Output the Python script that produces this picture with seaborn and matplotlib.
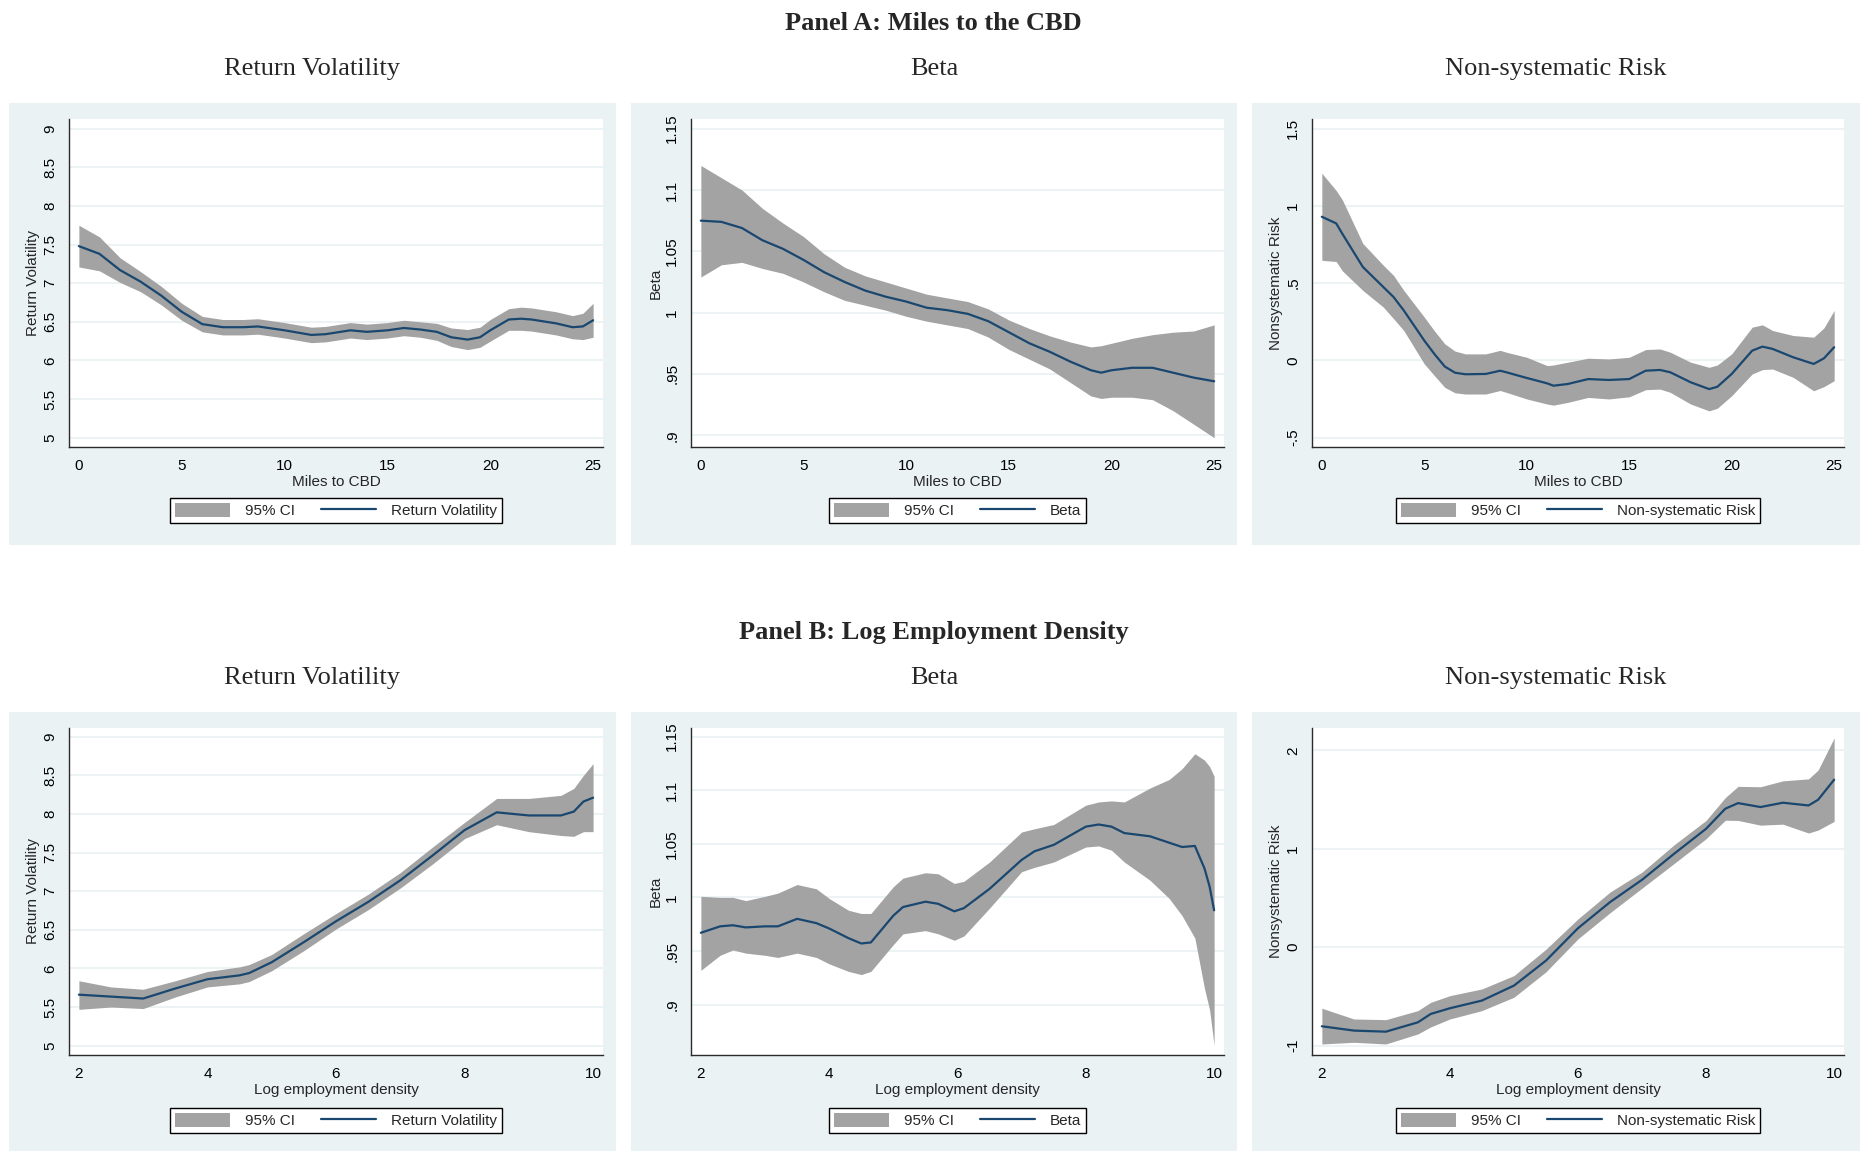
import matplotlib
matplotlib.use("Agg")
import matplotlib.pyplot as plt
from matplotlib.patches import Rectangle
import numpy as np
import pandas as pd
import seaborn as sns

# ---------------- Panel A: miles to the CBD ----------------
miles_vol = [0, 1, 2, 3, 4, 5, 6, 7, 8, 8.7, 10, 11.3, 12, 13.2, 14, 15, 15.8, 16.6,
             17.4, 18.1, 18.9, 19.5, 20, 20.9, 21.5, 22, 23.2, 24, 24.5, 25]
vol_miles = [7.48, 7.38, 7.17, 7.02, 6.84, 6.63, 6.47, 6.43, 6.43, 6.44, 6.39, 6.33, 6.34,
             6.39, 6.37, 6.39, 6.42, 6.40, 6.37, 6.30, 6.27, 6.30, 6.39, 6.53, 6.54, 6.53,
             6.48, 6.43, 6.44, 6.52]
vol_miles_lo = [7.21, 7.16, 7.01, 6.89, 6.72, 6.52, 6.37, 6.33, 6.33, 6.34, 6.29, 6.23, 6.24,
                6.29, 6.27, 6.29, 6.32, 6.30, 6.26, 6.18, 6.14, 6.17, 6.25, 6.39, 6.39, 6.38,
                6.33, 6.28, 6.27, 6.30]
vol_miles_hi = [7.75, 7.60, 7.33, 7.15, 6.96, 6.74, 6.57, 6.53, 6.53, 6.54, 6.49, 6.43, 6.44,
                6.49, 6.47, 6.49, 6.52, 6.50, 6.48, 6.42, 6.40, 6.43, 6.53, 6.67, 6.69, 6.68,
                6.63, 6.58, 6.61, 6.74]

miles_beta = [0, 1, 2, 3, 4, 5, 6, 7, 8, 9, 10, 11, 12, 13, 14, 15, 16, 17, 18, 19, 19.5,
              20, 21, 22, 23, 24, 25]
beta_miles = [1.075, 1.074, 1.069, 1.059, 1.052, 1.043, 1.033, 1.025, 1.018, 1.013, 1.009,
              1.004, 1.002, 0.999, 0.993, 0.984, 0.975, 0.968, 0.960, 0.953, 0.951, 0.953,
              0.955, 0.955, 0.951, 0.947, 0.944]
beta_miles_lo = [1.029, 1.039, 1.041, 1.036, 1.032, 1.025, 1.017, 1.010, 1.006, 1.002, 0.997,
                 0.993, 0.990, 0.987, 0.980, 0.970, 0.962, 0.954, 0.943, 0.932, 0.930, 0.931,
                 0.931, 0.929, 0.920, 0.909, 0.898]
beta_miles_hi = [1.120, 1.110, 1.100, 1.085, 1.073, 1.062, 1.048, 1.037, 1.030, 1.025, 1.020,
                 1.015, 1.012, 1.009, 1.003, 0.994, 0.987, 0.981, 0.976, 0.972, 0.973, 0.975,
                 0.979, 0.982, 0.984, 0.985, 0.990]

miles_nsr = [0, 0.7, 1, 2, 3, 3.5, 4, 5, 5.5, 6, 6.5, 7, 8, 8.7, 9, 10, 11, 11.3, 12, 13, 14,
             15, 15.8, 16.5, 17, 18, 18.9, 19.3, 20, 21, 21.5, 22, 23, 24, 24.5, 25]
nsr_miles = [0.930, 0.887, 0.820, 0.605, 0.475, 0.410, 0.323, 0.128, 0.040, -0.040, -0.080,
             -0.090, -0.088, -0.067, -0.077, -0.114, -0.149, -0.164, -0.153, -0.121, -0.127,
             -0.121, -0.067, -0.062, -0.077, -0.142, -0.186, -0.171, -0.088, 0.063, 0.089,
             0.074, 0.020, -0.023, 0.013, 0.085]
nsr_miles_lo = [0.648, 0.640, 0.580, 0.453, 0.345, 0.270, 0.193, -0.023, -0.100, -0.175,
                -0.210, -0.218, -0.218, -0.195, -0.207, -0.250, -0.283, -0.290, -0.272,
                -0.240, -0.250, -0.236, -0.190, -0.186, -0.207, -0.283, -0.327, -0.310,
                -0.229, -0.088, -0.060, -0.056, -0.110, -0.197, -0.170, -0.132]
nsr_miles_hi = [1.212, 1.100, 1.040, 0.757, 0.616, 0.550, 0.453, 0.280, 0.190, 0.107, 0.060,
                0.042, 0.042, 0.065, 0.053, 0.020, -0.034, -0.030, -0.012, 0.014, 0.009,
                0.020, 0.070, 0.074, 0.053, -0.012, -0.045, -0.030, 0.042, 0.215, 0.230,
                0.193, 0.161, 0.150, 0.210, 0.323]

# ---------------- Panel B: log employment density ----------------
dens_vol = [2, 2.5, 3, 3.5, 4, 4.5, 4.65, 5, 5.5, 6, 6.5, 7, 7.5, 8, 8.5, 9, 9.5, 9.7,
            9.85, 10]
vol_dens = [5.66, 5.635, 5.61, 5.74, 5.86, 5.91, 5.94, 6.08, 6.34, 6.61, 6.86, 7.14, 7.46,
            7.79, 8.02, 7.98, 7.98, 8.03, 8.16, 8.21]
vol_dens_lo = [5.47, 5.50, 5.48, 5.63, 5.76, 5.80, 5.83, 5.97, 6.23, 6.51, 6.76, 7.04, 7.35,
               7.68, 7.86, 7.77, 7.72, 7.71, 7.77, 7.77]
vol_dens_hi = [5.84, 5.76, 5.73, 5.84, 5.96, 6.02, 6.05, 6.18, 6.45, 6.71, 6.96, 7.24, 7.57,
               7.89, 8.20, 8.20, 8.24, 8.33, 8.50, 8.65]

dens_beta = [2, 2.3, 2.5, 2.7, 3, 3.2, 3.5, 3.8, 4, 4.3, 4.5, 4.65, 5, 5.15, 5.5, 5.7, 5.95,
             6.1, 6.5, 7, 7.2, 7.5, 8, 8.2, 8.4, 8.6, 9, 9.3, 9.5, 9.7, 9.85, 9.93, 10]
beta_dens = [0.967, 0.973, 0.974, 0.972, 0.973, 0.973, 0.980, 0.976, 0.971, 0.962, 0.957,
             0.958, 0.983, 0.991, 0.996, 0.994, 0.987, 0.990, 1.008, 1.035, 1.043, 1.049,
             1.066, 1.068, 1.066, 1.060, 1.057, 1.051, 1.047, 1.048, 1.027, 1.010, 0.988]
beta_dens_lo = [0.932, 0.946, 0.951, 0.948, 0.946, 0.944, 0.948, 0.944, 0.938, 0.931, 0.928,
                0.931, 0.956, 0.966, 0.969, 0.966, 0.960, 0.964, 0.990, 1.024, 1.028, 1.033,
                1.047, 1.048, 1.044, 1.033, 1.016, 0.999, 0.983, 0.962, 0.915, 0.895, 0.862]
beta_dens_hi = [1.001, 1.000, 1.000, 0.997, 1.001, 1.004, 1.012, 1.008, 0.999, 0.988, 0.985,
                0.985, 1.010, 1.018, 1.023, 1.022, 1.013, 1.015, 1.033, 1.061, 1.064, 1.068,
                1.086, 1.089, 1.090, 1.089, 1.102, 1.110, 1.120, 1.134, 1.128, 1.122, 1.113]

dens_nsr = [2, 2.5, 3, 3.5, 3.7, 4, 4.5, 5, 5.5, 6, 6.5, 7, 7.5, 8, 8.3, 8.5, 8.85, 9.2,
            9.6, 9.75, 10]
nsr_dens = [-0.803, -0.847, -0.858, -0.763, -0.678, -0.620, -0.542, -0.390, -0.136, 0.193,
            0.458, 0.685, 0.949, 1.203, 1.407, 1.464, 1.424, 1.468, 1.440, 1.498, 1.702]
nsr_dens_lo = [-0.983, -0.966, -0.983, -0.881, -0.810, -0.729, -0.644, -0.508, -0.250, 0.085,
               0.350, 0.600, 0.850, 1.102, 1.290, 1.288, 1.240, 1.250, 1.160, 1.190, 1.278]
nsr_dens_hi = [-0.620, -0.729, -0.736, -0.644, -0.560, -0.492, -0.424, -0.288, -0.020, 0.288,
               0.560, 0.763, 1.040, 1.288, 1.520, 1.634, 1.630, 1.690, 1.710, 1.800, 2.125]

# axis ticks and labels
miles_ticks = [0, 5, 10, 15, 20, 25]
dens_ticks = [2, 4, 6, 8, 10]
vol_ticks = [5, 5.5, 6, 6.5, 7, 7.5, 8, 8.5, 9]
vol_ticklabels = ["5", "5.5", "6", "6.5", "7", "7.5", "8", "8.5", "9"]
beta_ticks = [0.9, 0.95, 1.0, 1.05, 1.1, 1.15]
beta_ticklabels = [".9", ".95", "1", "1.05", "1.1", "1.15"]
nsr_miles_ticks = [-0.5, 0, 0.5, 1, 1.5]
nsr_miles_ticklabels = ["-.5", "0", ".5", "1", "1.5"]
nsr_dens_ticks = [-1, 0, 1, 2]
nsr_dens_ticklabels = ["-1", "0", "1", "2"]

col_titles = ["Return Volatility", "Beta", "Non-systematic Risk"]
series_names = ["Return Volatility", "Beta", "Non-systematic Risk"]
y_titles = ["Return Volatility", "Beta", "Nonsystematic Risk"]
row_titles = ["Panel A: Miles to the CBD", "Panel B: Log Employment Density"]
x_titles = ["Miles to CBD", "Log employment density"]

# ---------------- styling ----------------
sns.set_theme(style="white")
plt.rcParams['font.family'] = ['Liberation Sans', 'DejaVu Sans']
SERIF = ['Liberation Serif', 'DejaVu Serif']
NAVY = "#1A476F"
CI_GREY = "#A3A3A3"
TILE = "#EAF2F3"
AXIS = "#2b2b2b"
FS = 11
FS_LEG = 11

W, H = 1862, 1151
fig = plt.figure(figsize=(W / 100, H / 100), dpi=100)
fig.patch.set_facecolor("white")

def px_box(x0, y0, x1, y1):
    """figure-fraction rectangle from pixel edges (origin top-left)"""
    return [x0 / W, 1 - y1 / H, (x1 - x0) / W, (y1 - y0) / H]

tile_cols = [(9, 616), (631, 1237), (1252, 1860)]
tile_rows = [(103, 545), (712, 1151)]
ax_cols = [(69, 603), (691, 1224), (1312, 1844)]
ax_rows = [(119, 447), (728, 1055)]
row_title_y = [24, 633]
col_title_y = [69, 678]
legend_y = [510.5, 1120.5]

for (ty0, ty1) in tile_rows:
    for (tx0, tx1) in tile_cols:
        l, b, w, h = px_box(tx0, ty0, tx1, ty1)
        fig.add_artist(Rectangle((l, b), w, h, transform=fig.transFigure,
                                 facecolor=TILE, edgecolor="none", zorder=-5))

panels = [
    [(miles_vol, vol_miles, vol_miles_lo, vol_miles_hi, (4.879, 9.126), vol_ticks, vol_ticklabels),
     (miles_beta, beta_miles, beta_miles_lo, beta_miles_hi, (0.8904, 1.1579), beta_ticks, beta_ticklabels),
     (miles_nsr, nsr_miles, nsr_miles_lo, nsr_miles_hi, (-0.561, 1.563), nsr_miles_ticks, nsr_miles_ticklabels)],
    [(dens_vol, vol_dens, vol_dens_lo, vol_dens_hi, (4.879, 9.112), vol_ticks, vol_ticklabels),
     (dens_beta, beta_dens, beta_dens_lo, beta_dens_hi, (0.853, 1.158), beta_ticks, beta_ticklabels),
     (dens_nsr, nsr_dens, nsr_dens_lo, nsr_dens_hi, (-1.095, 2.227), nsr_dens_ticks, nsr_dens_ticklabels)],
]
row_xlim = [(-0.48, 25.48), (1.846, 10.154)]
row_xticks = [miles_ticks, dens_ticks]

for r in range(2):
    fig.text(0.5015, 1 - row_title_y[r] / H, row_titles[r], ha="center", va="center",
             fontsize=19, fontweight="bold", family=SERIF)
    ay0, ay1 = ax_rows[r]
    for c in range(3):
        tx0, tx1 = tile_cols[c]
        fig.text((tx0 + tx1) / 2 / W, 1 - col_title_y[r] / H, col_titles[c],
                 ha="center", va="center", fontsize=19, family=SERIF)
        ax0, ax1 = ax_cols[c]
        ax = fig.add_axes(px_box(ax0, ay0, ax1, ay1))
        x, fit, lo, hi, ylim, yt, ytl = panels[r][c]
        ax.set_facecolor("white")
        ax.fill_between(x, lo, hi, color=CI_GREY, lw=0, label="95% CI", zorder=2)
        df = pd.DataFrame({"x": x, "y": fit})
        sns.lineplot(data=df, x="x", y="y", ax=ax, color=NAVY, lw=1.6,
                     label=series_names[c], zorder=3)
        ax.set_xlim(row_xlim[r])
        ax.set_ylim(ylim)
        ax.set_xticks(row_xticks[r])
        ax.set_xticklabels([str(v) for v in row_xticks[r]], fontsize=FS)
        ax.set_yticks(yt)
        ax.set_yticklabels(ytl, rotation=90, va="center", fontsize=FS)
        ax.yaxis.grid(True, color=TILE, lw=1.3)
        ax.xaxis.grid(False)
        ax.set_axisbelow(True)
        for s in ["top", "right"]:
            ax.spines[s].set_visible(False)
        for s in ["left", "bottom"]:
            ax.spines[s].set_color(AXIS)
            ax.spines[s].set_linewidth(1.0)
        ax.tick_params(axis="both", direction="out", length=5, width=1, color=AXIS,
                       labelcolor="black", pad=3.5)
        ax.set_xlabel(x_titles[r], fontsize=FS, labelpad=1.5)
        ax.set_ylabel(y_titles[c], fontsize=FS, labelpad=2)
        ly = -(legend_y[r] - ay1) / (ay1 - ay0)
        leg = ax.legend(loc="center", bbox_to_anchor=(0.5, ly), ncol=2, frameon=True,
                        fancybox=False, framealpha=1, edgecolor="black", facecolor="white",
                        fontsize=FS_LEG, handlelength=3.6, handleheight=1.0, columnspacing=1.7,
                        borderpad=0.3, handletextpad=1.0, borderaxespad=0)
        leg.get_frame().set_linewidth(1.0)

fig.savefig("out.png", dpi=100, facecolor="white")
